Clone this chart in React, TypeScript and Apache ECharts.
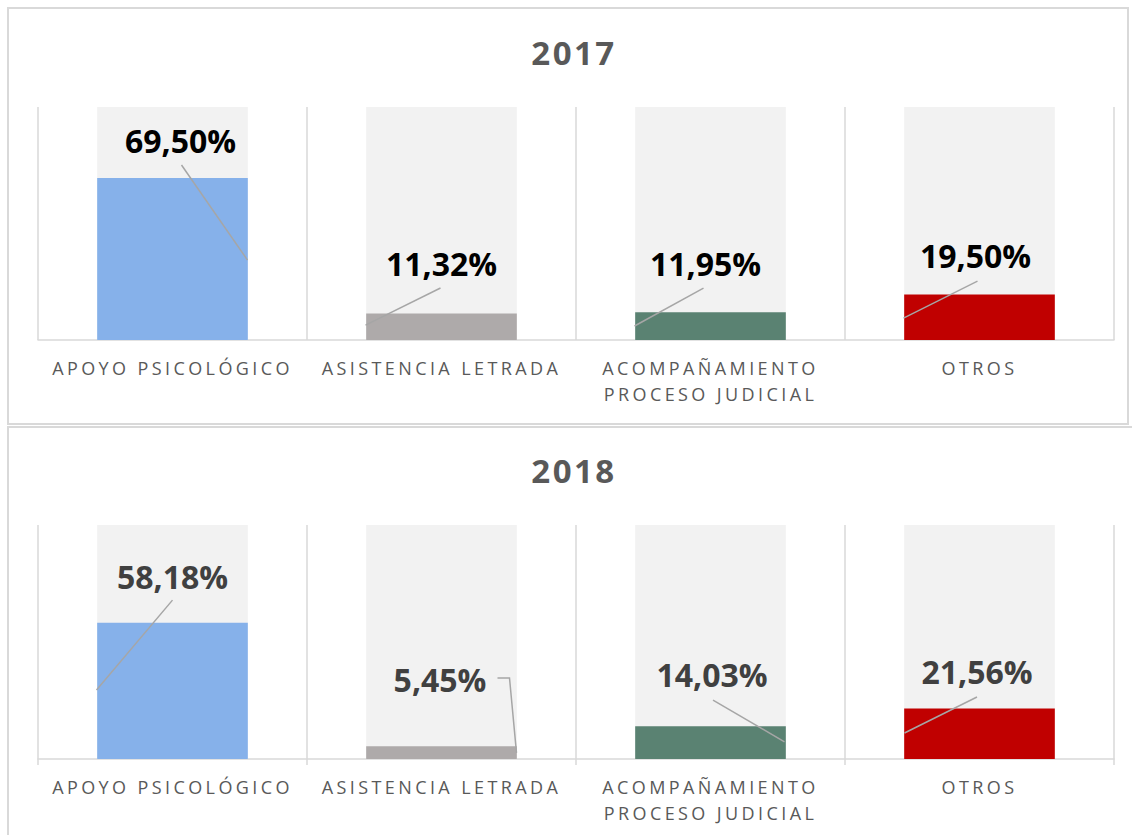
import React, { useEffect, useRef } from 'react';
import * as echarts from 'echarts';

// ---- data ----
const years = ['2017', '2018'];
const categories = ['APOYO PSICOLÓGICO', 'ASISTENCIA LETRADA', 'ACOMPAÑAMIENTO\nPROCESO JUDICIAL', 'OTROS'];
const values2017 = [69.5, 11.32, 11.95, 19.5];
const values2018 = [58.18, 5.45, 14.03, 21.56];
const barColors = ['#86b1ea', '#aeaaaa', '#5a8272', '#c00000'];

// ---- layout (label offsets: [dx px from category centre, height in axis units]) ----
const labelPos2017 = [[8, 85.8], [0, 33.0], [-5, 33.0], [-4, 36.1]];
const labelPos2018 = [[0, 77.8], [-1.5, 33.8], [1.5, 35.9], [-2.5, 37.2]];
const leaders2017 = [
  [[9, 75.1], [75, 34.3]],
  [[-1, 22.3], [-76, 6.4]],
  [[-7, 22.3], [-76, 6.0]],
  [[-2, 25.3], [-76, 9.4]],
];
const leaders2018 = [
  [[0, 67.9], [-76, 29.5]],
  [[56, 34.6], [68, 34.6], [75, 2.6]],
  [[2.5, 25.2], [74, 7.3]],
  [[-2.5, 26.5], [-75, 11.1]],
];
const gridTops = [107, 525];
const gridHeights = [233, 234];
const labelColors = ['#000000', '#404040'];

const fmt = (v: number) => v.toFixed(2).replace('.', ',') + '%';

export default function App() {
  const ref = useRef<HTMLDivElement>(null);
  useEffect(() => {
    document.body.style.margin = '0';
    const chart = echarts.init(ref.current!, null, { renderer: 'svg' });
    const allValues = [values2017, values2018];
    const allLabelPos = [labelPos2017, labelPos2018];
    const allLeaders = [leaders2017, leaders2018];

    const option: any = {
      animation: false,
      backgroundColor: '#ffffff',
      grid: gridTops.map((t, g) => ({ left: 38, right: 18, top: t, height: gridHeights[g], containLabel: false })),
      xAxis: gridTops.map((_, g) => ({
        type: 'category',
        gridIndex: g,
        data: categories,
        axisLine: { show: true, lineStyle: { color: '#d9d9d9', width: 1.5 } },
        axisTick: { show: g === 1, length: 6, interval: 0, lineStyle: { color: '#d9d9d9', width: 1.5 } },
        splitLine: { show: true, interval: 0, lineStyle: { color: '#d9d9d9', width: 1.5 } },
        axisLabel: {
          interval: 0,
          margin: 15,
          color: '#595959',
          fontSize: 18,
          lineHeight: 26,
          fontFamily: 'Open Sans',
          verticalAlign: 'top',
        },
      })),
      yAxis: gridTops.map((_, g) => ({ type: 'value', gridIndex: g, min: 0, max: 100, show: false })),
      series: allValues.map((vals, g) => ({
        type: 'bar',
        xAxisIndex: g,
        yAxisIndex: g,
        barWidth: '56%',
        showBackground: true,
        backgroundStyle: { color: '#f2f2f2' },
        data: vals.map((v, i) => ({ value: v, itemStyle: { color: barColors[i] } })),
        label: {
          show: true,
          formatter: (p: any) => fmt(p.value),
          fontSize: 32,
          fontWeight: 'bold',
          fontFamily: 'Open Sans',
          color: labelColors[g],
        },
        labelLayout: (p: any) => {
          const i = p.dataIndex;
          const r = p.rect;
          const v = vals[i];
          const bottom = r.y + r.height;
          const perUnit = r.height / v;
          return {
            x: r.x + r.width / 2 + allLabelPos[g][i][0],
            y: bottom - allLabelPos[g][i][1] * perUnit,
            align: 'center',
            verticalAlign: 'middle',
          };
        },
      })),
    };
    chart.setOption(option);

    const graphics: any[] = [
      { type: 'rect', z: -10, shape: { x: 8, y: 8, width: 1120, height: 416 }, style: { fill: 'none', stroke: '#d9d9d9', lineWidth: 2 } },
      { type: 'rect', z: -10, shape: { x: 8, y: 427, width: 1140, height: 420 }, style: { fill: 'none', stroke: '#d9d9d9', lineWidth: 2 } },
    ];
    years.forEach((y, g) => {
      graphics.push({
        type: 'text',
        x: 574,
        y: g === 0 ? 52 : 470,
        style: {
          text: y,
          fontSize: 33,
          fontWeight: 'bold',
          fontFamily: 'Open Sans',
          fill: '#595959',
          align: 'center',
          verticalAlign: 'middle',
          textAlign: 'center',
          textVerticalAlign: 'middle',
        },
      });
    });
    allLeaders.forEach((L, g) => {
      L.forEach((pts, i) => {
        const points = pts.map(([dx, v]) => {
          const p = chart.convertToPixel({ gridIndex: g }, [i, v]) as number[];
          return [p[0] + dx, p[1]];
        });
        graphics.push({
          type: 'polyline',
          z: 100,
          shape: { points },
          style: { stroke: '#a6a6a6', lineWidth: 1.5, fill: 'none' },
        });
      });
    });
    chart.setOption({ graphic: graphics });
    return () => chart.dispose();
  }, []);
  return (
    <>
      <style>{`#chart text[style*="33px"]{letter-spacing:2.5px} #chart text[style*="18px"]{letter-spacing:3.4px}`}</style>
      <div id="chart" ref={ref} style={{ width: 1132, height: 835 }} />
    </>
  );
}
